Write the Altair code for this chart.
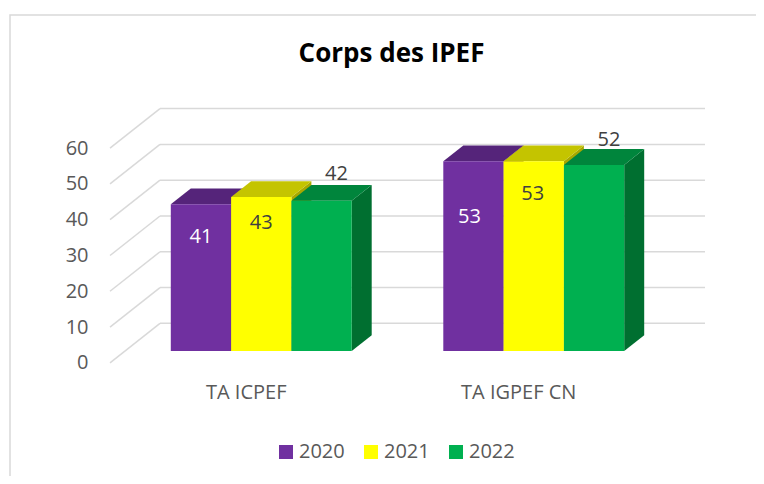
import altair as alt
import pandas as pd

# ---------------- data ----------------
categories = ["TA ICPEF", "TA IGPEF CN"]
series = ["2020", "2021", "2022"]
values_2020 = [41, 53]
values_2021 = [43, 53]
values_2022 = [42, 52]
y_ticks = [0, 10, 20, 30, 40, 50, 60]
title_text = "Corps des IPEF"

# ---------------- style ----------------
front_colors = ["#7030A0", "#FFFF00", "#00B050"]
top_colors = ["#55247A", "#C4C400", "#00853C"]
side_colors = ["#4A1F6B", "#A8A800", "#006F30"]
label_colors = ["#FFFFFF", "#404040", "#404040"]
# label offsets in px from the top-front centre of each bar (per series, per category)
label_dx = [[0, -4], [0, -1], [15, 15]]
label_dy = [[33, 56], [26, 33], [-27, -25]]

FONT = "Open Sans"
W, H = 620, 272
Y_DOMAIN = [-2, 74]
PX = H / (Y_DOMAIN[1] - Y_DOMAIN[0])  # px per value unit
FLOOR_X0 = 10          # front-left corner of the floor (x units = px)
CAT_W = 272.5          # width of one category slot on the front plane
DEPTH_X = 50           # full depth offset, x (px)
DEPTH_Y = 39.5 / PX    # full depth offset, y (value units)
BAR_W = 60.3
F = 0.30               # depth of bar front face (fraction)
D = 0.40               # bar depth (fraction)

values = [values_2020, values_2021, values_2022]

# ---------------- geometry from data ----------------
fronts, tops, sides, labels = [], [], [], []
for i, cat in enumerate(categories):
    for j, s in enumerate(series):
        v = values[j][i]
        x0 = FLOOR_X0 + i * CAT_W + (CAT_W - 3 * BAR_W) / 2 + j * BAR_W + F * DEPTH_X
        x1 = x0 + BAR_W
        base = F * DEPTH_Y
        top = base + v
        ddx, ddy = D * DEPTH_X, D * DEPTH_Y
        bid = f"{i}-{j}"
        fronts.append(dict(series=s, x0=x0, x1=x1, y0=base, y1=top))
        tops.append(dict(id=bid, y=top, xa=x0, xb=x1, c=top_colors[j]))
        tops.append(dict(id=bid, y=top + ddy, xa=x0 + ddx, xb=x1 + ddx, c=top_colors[j]))
        sides.append(dict(id=bid, x=x1, ylo=base, yhi=top, c=side_colors[j]))
        sides.append(dict(id=bid, x=x1 + ddx, ylo=base + ddy, yhi=top + ddy, c=side_colors[j]))
        labels.append(dict(text=str(v),
                           x=(x0 + x1) / 2 + label_dx[j][i],
                           y=top - label_dy[j][i] / PX,
                           c=label_colors[j]))

back_lines = pd.DataFrame([dict(x=FLOOR_X0 + DEPTH_X, x2=FLOOR_X0 + 2 * CAT_W + DEPTH_X,
                                y=t + DEPTH_Y, y2=t + DEPTH_Y) for t in y_ticks])
diag_lines = pd.DataFrame([dict(x=FLOOR_X0, x2=FLOOR_X0 + DEPTH_X, y=t, y2=t + DEPTH_Y) for t in y_ticks])
cat_df = pd.DataFrame([dict(cat=c, x=FLOOR_X0 + (i + 0.5) * CAT_W, y=-8.5) for i, c in enumerate(categories)])

fronts = pd.DataFrame(fronts)
tops = pd.DataFrame(tops)
sides = pd.DataFrame(sides)
labels = pd.DataFrame(labels)

xscale = alt.Scale(domain=[0, W], nice=False, zero=False)
yscale = alt.Scale(domain=Y_DOMAIN, nice=False, zero=False)
yaxis = alt.Axis(values=y_ticks, domain=False, ticks=False, grid=False, labelFontSize=20,
                 labelFont=FONT, labelColor="#595959", labelPadding=12, title=None)


def X(f):
    return alt.X(f, scale=xscale, axis=None)


def Y(f):
    return alt.Y(f, scale=yscale, axis=yaxis)


GRID = "#D9D9D9"

border = alt.Chart(pd.DataFrame({"a": [0]})).mark_rect(
    fillOpacity=0, stroke=GRID, strokeWidth=1.5).encode(
    x=alt.value(-90), x2=alt.value(900), y=alt.value(-83), y2=alt.value(600))

back = alt.Chart(back_lines).mark_rule(color=GRID, strokeWidth=1.5).encode(
    x=X("x:Q"), x2="x2:Q", y=Y("y:Q"), y2="y2:Q")
diag = alt.Chart(diag_lines).mark_rule(color=GRID, strokeWidth=1.5).encode(
    x=X("x:Q"), x2="x2:Q", y=Y("y:Q"), y2="y2:Q")

side_layer = alt.Chart(sides).mark_area(opacity=1).encode(
    x=X("x:Q"), y=Y("ylo:Q"), y2="yhi:Q", detail="id:N",
    fill=alt.Fill("c:N", scale=None))
top_layer = alt.Chart(tops).mark_area(orient="horizontal", opacity=1).encode(
    y=Y("y:Q"), x=X("xa:Q"), x2="xb:Q", detail="id:N",
    fill=alt.Fill("c:N", scale=None))
front_layer = alt.Chart(fronts).mark_rect(opacity=1).encode(
    x=X("x0:Q"), x2="x1:Q", y=Y("y0:Q"), y2="y1:Q",
    color=alt.Color("series:N",
                    scale=alt.Scale(domain=series, range=front_colors),
                    legend=alt.Legend(title=None, orient="none", direction="horizontal",
                                      legendX=176, legendY=344, padding=0,
                                      symbolType="square", symbolSize=196, symbolStrokeWidth=0,
                                      labelFontSize=20, labelFont=FONT, labelColor="#595959",
                                      labelOffset=3, columnPadding=16)))
label_layer = alt.Chart(labels).mark_text(font=FONT, fontSize=20, baseline="middle", align="center").encode(
    x=X("x:Q"), y=Y("y:Q"), text="text:N", fill=alt.Fill("c:N", scale=None))
cat_layer = alt.Chart(cat_df).mark_text(font=FONT, fontSize=20, baseline="middle", align="center",
                                        color="#595959").encode(
    x=X("x:Q"), y=Y("y:Q"), text="cat:N")
title_layer = alt.Chart(pd.DataFrame({"t": [title_text]})).mark_text(
    font=FONT, fontSize=26, fontWeight="bold", color="#000000", align="center", baseline="alphabetic").encode(
    x=alt.value(291.5), y=alt.value(-36), text="t:N")

chart = alt.layer(border, back, diag, side_layer, top_layer, front_layer, label_layer, cat_layer, title_layer).properties(
    width=W, height=H,
    padding={"left": 92, "top": 90, "right": 36, "bottom": 106},
    autosize=alt.AutoSizeParams(type="none"),
    background="white",
).configure_view(stroke=None)

chart.save("out.html", embed_options={"renderer": "svg", "actions": False})
